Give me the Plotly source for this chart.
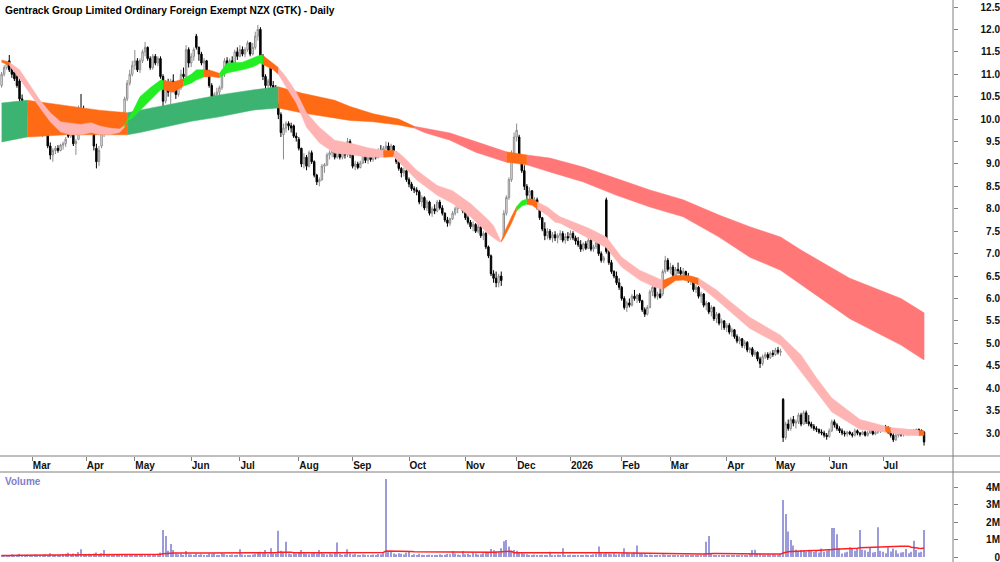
import pandas as pd
import plotly.graph_objects as go

# ---------------- data ----------------
holidays = ["2025-04-18", "2025-04-21", "2025-04-25", "2025-06-02", "2025-06-20", "2025-10-27",
            "2025-12-25", "2025-12-26", "2026-01-01", "2026-01-02", "2026-02-06", "2026-04-03",
            "2026-04-06", "2026-04-27", "2026-06-01", "2026-07-10"]
first_day = "2025-02-13"
last_day = "2026-07-24"

opens = [
    10.75, 11.00, 11.15, 11.30, 11.10, 11.05, 10.95, 10.85, 10.45, 10.30, 10.20, 10.30,
    10.12, 10.00, 9.85, 9.95, 9.75, 9.88, 9.70, 9.40, 9.20, 9.30, 9.35, 9.30, 9.42, 9.45, 9.95, 9.62, 9.80, 9.45, 9.55, 10.20, 10.10,
    9.95, 9.85, 10.15, 9.70, 9.35, 9.05, 9.40, 9.70, 9.95, 9.85, 9.95, 9.75, 9.80, 9.75, 9.90, 10.15, 10.45, 10.80, 11.00,
    11.20, 11.30, 11.10, 11.30, 11.50, 11.60, 11.35, 11.15, 11.40, 11.25, 11.35, 10.95, 10.40, 10.80, 10.60, 10.85, 10.65, 10.55, 10.70, 11.00, 10.95, 11.55,
    11.25, 11.40, 11.85, 11.60, 11.45, 11.25, 11.30, 11.00, 10.75, 10.50, 10.55, 10.60, 10.70, 11.05, 11.30, 11.20, 11.30, 11.25, 11.50,
    11.40, 11.55, 11.45, 11.55, 11.70, 11.45, 11.60, 11.85, 12.00, 11.40, 10.95, 10.75, 11.20, 10.75, 10.70, 10.30, 10.10, 9.65, 9.80, 9.90, 9.85, 9.85, 9.62,
    9.55, 9.35, 9.00, 9.15, 8.95, 9.25, 9.05, 8.75, 8.60, 8.65, 8.95, 8.98, 9.20, 9.25, 9.40, 9.15, 9.35, 9.15, 9.25, 9.20, 9.50,
    9.20, 8.95, 9.00, 8.92, 9.02, 9.25, 9.08, 9.15, 9.10, 9.25, 9.15, 9.30, 9.25, 9.35, 9.40, 9.30, 9.40, 9.25, 9.05, 8.90, 8.80, 8.85,
    8.65, 8.55, 8.45, 8.42, 8.38, 8.15, 8.25, 8.02, 8.15, 7.90, 8.00, 7.95, 8.15, 8.02, 7.90, 7.75, 7.68, 7.78, 7.90, 8.00, 8.08, 8.15,
    7.95, 7.80, 7.70, 7.60, 7.65, 7.50, 7.60, 7.40, 7.45, 7.15, 6.95, 6.55, 6.45, 6.35, 6.50, 7.40, 7.90, 8.25, 8.65, 9.20,
    9.60, 9.60, 9.10, 8.85, 8.50, 8.30, 8.40, 8.15, 8.20, 8.05, 7.80, 7.55, 7.40, 7.50, 7.35, 7.42, 7.35, 7.40, 7.45, 7.30, 7.38,
    7.35, 7.45, 7.35, 7.28, 7.20, 7.10, 7.22, 7.12, 7.30, 7.10, 7.15, 7.25, 7.00, 6.85, 8.20, 7.05, 6.80, 6.60, 6.50, 6.35,
    6.25, 6.00, 5.80, 5.90, 5.85, 6.05, 6.00, 6.08, 5.95, 5.75, 5.65, 5.80, 6.15, 6.25, 6.05, 6.10, 6.10, 6.60, 6.85,
    6.65, 6.70, 6.52, 6.65, 6.62, 6.55, 6.60, 6.50, 6.40, 6.45, 6.20, 6.25, 6.05, 6.10, 5.85, 5.90, 5.70, 5.80, 5.55, 5.65, 5.45, 5.50,
    5.35, 5.40, 5.25, 5.30, 5.15, 5.05, 5.10, 4.95, 5.02, 4.85, 4.88, 4.75, 4.80, 4.65, 4.55, 4.70, 4.75, 4.68, 4.78,
    4.75, 4.85, 4.80, 3.75, 2.90, 3.20, 3.10, 3.30, 3.22, 3.25, 3.40, 3.20, 3.45, 3.25, 3.20, 3.15, 3.10, 3.08, 3.02, 3.00, 2.95,
    2.92, 3.05, 3.25, 3.18, 3.10, 3.05, 3.00, 2.98, 3.02, 2.98, 2.95, 3.05, 3.00, 2.97, 3.02, 2.95, 3.00, 3.08, 2.98, 3.02, 3.05,
    3.08, 3.12, 3.10, 3.02, 2.95, 2.85, 2.95, 2.98, 2.96, 3.00, 2.98, 3.00, 3.05, 3.02, 3.08, 3.05, 3.02,
]
highs = [
    11.05, 11.20, 11.30, 11.43, 11.18, 11.12, 11.00, 10.90, 10.55, 10.40, 10.35, 10.35,
    10.18, 10.05, 10.00, 10.02, 9.92, 9.95, 9.72, 9.48, 9.35, 9.40, 9.42, 9.45, 9.50, 9.60, 10.05, 9.85, 9.82, 9.55, 10.30, 10.56, 10.30,
    10.14, 10.20, 10.20, 9.72, 9.45, 9.40, 9.75, 10.05, 10.05, 10.00, 9.98, 9.87, 9.85, 9.90, 10.16, 10.50, 10.87, 11.10, 11.30,
    11.54, 11.36, 11.35, 11.55, 11.72, 11.62, 11.40, 11.45, 11.45, 11.40, 11.40, 11.00, 10.87, 10.90, 10.90, 11.00, 10.80, 10.75, 11.10, 11.15, 11.65, 11.60,
    11.47, 11.60, 11.90, 11.62, 11.50, 11.36, 11.32, 11.10, 10.80, 10.60, 10.70, 10.75, 11.10, 11.36, 11.38, 11.35, 11.40, 11.55, 11.60,
    11.65, 11.62, 11.60, 11.75, 11.72, 11.70, 11.95, 12.10, 12.05, 11.45, 11.00, 10.90, 11.25, 10.85, 10.76, 10.35, 10.15, 9.90, 9.95, 9.95, 9.92, 9.88, 9.70,
    9.60, 9.36, 9.24, 9.20, 9.30, 9.30, 9.08, 8.78, 8.70, 9.00, 9.02, 9.25, 9.30, 9.40, 9.45, 9.40, 9.38, 9.30, 9.32, 9.58, 9.55,
    9.22, 9.07, 9.05, 9.07, 9.30, 9.28, 9.20, 9.25, 9.30, 9.30, 9.35, 9.42, 9.40, 9.50, 9.48, 9.45, 9.42, 9.28, 9.15, 8.93, 8.92, 8.88,
    8.70, 8.60, 8.50, 8.48, 8.42, 8.30, 8.28, 8.20, 8.18, 8.05, 8.10, 8.20, 8.20, 8.08, 7.92, 7.82, 7.80, 7.95, 8.05, 8.13, 8.24, 8.18,
    7.97, 7.85, 7.75, 7.72, 7.68, 7.68, 7.62, 7.50, 7.48, 7.18, 6.98, 6.63, 6.60, 6.55, 6.60, 7.97, 8.30, 8.70, 9.30, 9.70,
    9.90, 9.65, 9.15, 8.97, 8.55, 8.48, 8.42, 8.26, 8.25, 8.08, 7.82, 7.70, 7.57, 7.55, 7.48, 7.50, 7.45, 7.52, 7.50, 7.45, 7.48,
    7.52, 7.50, 7.40, 7.37, 7.30, 7.25, 7.28, 7.35, 7.35, 7.20, 7.30, 7.28, 7.05, 6.95, 8.25, 7.10, 6.86, 6.63, 6.60, 6.45,
    6.28, 6.05, 5.95, 6.00, 6.10, 6.19, 6.10, 6.12, 5.97, 5.80, 5.85, 6.20, 6.34, 6.28, 6.15, 6.25, 6.65, 6.95, 6.90,
    6.80, 6.75, 6.70, 6.80, 6.70, 6.68, 6.62, 6.57, 6.50, 6.48, 6.30, 6.28, 6.15, 6.12, 5.95, 5.92, 5.85, 5.82, 5.70, 5.68, 5.55, 5.52,
    5.45, 5.45, 5.35, 5.32, 5.20, 5.15, 5.12, 5.07, 5.05, 4.92, 4.92, 4.85, 4.82, 4.70, 4.75, 4.80, 4.80, 4.82, 4.85,
    4.90, 4.92, 4.88, 3.78, 3.25, 3.30, 3.35, 3.38, 3.30, 3.45, 3.45, 3.50, 3.50, 3.40, 3.25, 3.20, 3.15, 3.10, 3.08, 3.05, 3.00,
    3.10, 3.30, 3.30, 3.22, 3.15, 3.10, 3.05, 3.05, 3.05, 3.02, 3.10, 3.08, 3.02, 3.05, 3.05, 3.05, 3.10, 3.10, 3.05, 3.08, 3.12,
    3.15, 3.18, 3.15, 3.05, 3.00, 3.00, 3.02, 3.00, 3.02, 3.05, 3.02, 3.08, 3.08, 3.10, 3.10, 3.08, 3.04,
]
lows = [
    10.70, 10.95, 11.10, 11.05, 10.92, 10.85, 10.70, 10.40, 10.20, 10.00, 10.10, 10.08,
    9.98, 9.82, 9.80, 9.70, 9.60, 9.65, 9.35, 9.10, 9.05, 9.22, 9.25, 9.28, 9.32, 9.38, 9.58, 9.58, 9.40, 9.20, 9.53, 10.00, 9.90,
    9.82, 9.80, 9.70, 9.30, 8.90, 8.95, 9.35, 9.60, 9.80, 9.80, 9.70, 9.65, 9.70, 9.70, 9.88, 10.10, 10.40, 10.75, 10.95,
    11.10, 11.05, 11.03, 11.25, 11.40, 11.30, 11.10, 11.10, 11.20, 11.18, 10.90, 10.17, 10.35, 10.50, 10.30, 10.60, 10.45, 10.50, 10.65, 10.85, 10.90, 11.15,
    11.16, 11.30, 11.55, 11.30, 11.20, 11.00, 10.95, 10.70, 10.40, 10.10, 10.45, 10.43, 10.65, 10.94, 11.14, 11.15, 11.18, 11.22, 11.32,
    11.38, 11.40, 11.38, 11.50, 11.40, 11.42, 11.55, 11.75, 11.35, 10.87, 10.65, 10.65, 10.70, 10.62, 10.27, 10.00, 9.60, 9.10, 9.70, 9.75, 9.70, 9.58, 9.50,
    9.30, 8.93, 8.90, 8.86, 8.92, 9.00, 8.70, 8.53, 8.50, 8.62, 8.80, 8.95, 9.10, 9.15, 9.10, 9.12, 9.10, 9.10, 9.12, 9.15, 9.13,
    8.90, 8.86, 8.88, 8.90, 9.00, 9.02, 9.00, 9.05, 9.05, 9.10, 9.12, 9.20, 9.20, 9.30, 9.25, 9.25, 9.20, 9.00, 8.85, 8.70, 8.72, 8.60,
    8.48, 8.40, 8.35, 8.30, 8.10, 8.05, 7.97, 7.95, 7.85, 7.82, 7.88, 7.92, 7.98, 7.85, 7.70, 7.60, 7.62, 7.75, 7.85, 7.90, 8.00, 7.90,
    7.75, 7.65, 7.55, 7.50, 7.46, 7.45, 7.35, 7.30, 7.10, 6.90, 6.50, 6.35, 6.25, 6.25, 6.28, 7.37, 7.85, 8.20, 8.60, 9.10,
    9.50, 9.05, 8.80, 8.42, 8.20, 8.10, 8.10, 8.05, 7.98, 7.75, 7.50, 7.30, 7.32, 7.30, 7.25, 7.28, 7.23, 7.30, 7.25, 7.22, 7.28,
    7.30, 7.30, 7.20, 7.15, 7.04, 7.05, 7.08, 7.10, 7.05, 7.04, 7.10, 6.95, 6.80, 6.79, 7.00, 6.75, 6.55, 6.45, 6.30, 6.19,
    5.95, 5.75, 5.70, 5.80, 5.82, 5.95, 5.90, 5.90, 5.70, 5.59, 5.62, 5.78, 6.05, 6.00, 5.97, 6.00, 6.05, 6.55, 6.60,
    6.55, 6.48, 6.50, 6.55, 6.45, 6.43, 6.45, 6.35, 6.30, 6.15, 6.12, 6.00, 5.90, 5.80, 5.74, 5.65, 5.60, 5.50, 5.45, 5.40, 5.30, 5.30,
    5.25, 5.20, 5.15, 5.10, 5.00, 4.98, 4.90, 4.88, 4.80, 4.78, 4.70, 4.70, 4.60, 4.45, 4.50, 4.65, 4.63, 4.65, 4.70,
    4.72, 4.75, 4.72, 2.80, 2.85, 3.05, 3.05, 3.15, 3.10, 3.20, 3.15, 3.18, 3.20, 3.15, 3.10, 3.05, 3.02, 2.98, 2.95, 2.90, 2.85,
    2.90, 3.02, 3.12, 3.05, 3.00, 2.95, 2.92, 2.92, 2.95, 2.90, 2.92, 2.95, 2.92, 2.95, 2.92, 2.92, 2.98, 2.95, 2.95, 2.98, 3.00,
    3.02, 3.05, 2.98, 2.90, 2.80, 2.82, 2.90, 2.92, 2.92, 2.95, 2.94, 2.97, 2.98, 3.00, 3.00, 3.00, 2.72,
]
closes = [
    11.00, 11.15, 11.25, 11.10, 11.00, 10.90, 10.75, 10.45, 10.30, 10.25, 10.30, 10.12,
    10.02, 9.85, 9.98, 9.75, 9.88, 9.70, 9.40, 9.20, 9.30, 9.35, 9.30, 9.42, 9.45, 9.55, 9.62, 9.80, 9.45, 9.50, 10.20, 10.10, 9.95,
    9.85, 10.15, 9.75, 9.40, 9.05, 9.30, 9.70, 9.95, 9.85, 9.95, 9.75, 9.80, 9.75, 9.85, 10.12, 10.45, 10.80, 11.00, 11.20,
    11.30, 11.10, 11.30, 11.50, 11.60, 11.35, 11.15, 11.40, 11.25, 11.35, 10.95, 10.40, 10.80, 10.60, 10.85, 10.65, 10.55, 10.70, 11.00, 10.95, 11.55, 11.25,
    11.40, 11.55, 11.60, 11.45, 11.25, 11.30, 11.00, 10.75, 10.50, 10.55, 10.60, 10.70, 11.05, 11.30, 11.20, 11.30, 11.25, 11.50, 11.40,
    11.55, 11.45, 11.55, 11.70, 11.45, 11.60, 11.85, 12.00, 11.40, 10.95, 10.75, 10.85, 10.75, 10.70, 10.30, 10.10, 9.70, 9.80, 9.90, 9.85, 9.80, 9.62, 9.58,
    9.35, 9.00, 9.15, 8.95, 9.25, 9.05, 8.75, 8.60, 8.65, 8.95, 8.98, 9.20, 9.25, 9.35, 9.15, 9.35, 9.15, 9.25, 9.20, 9.50, 9.20,
    8.95, 9.00, 8.92, 9.02, 9.25, 9.08, 9.15, 9.10, 9.25, 9.15, 9.30, 9.25, 9.35, 9.40, 9.30, 9.40, 9.25, 9.05, 8.90, 8.80, 8.85, 8.65,
    8.55, 8.45, 8.42, 8.38, 8.15, 8.25, 8.02, 8.15, 7.90, 8.00, 7.95, 8.15, 8.02, 7.90, 7.75, 7.68, 7.78, 7.90, 8.00, 8.08, 8.15, 7.95,
    7.80, 7.70, 7.60, 7.65, 7.50, 7.60, 7.40, 7.45, 7.15, 6.95, 6.55, 6.45, 6.35, 6.50, 6.40, 7.90, 8.25, 8.65, 9.20, 9.60,
    9.75, 9.10, 8.85, 8.50, 8.30, 8.40, 8.15, 8.20, 8.05, 7.80, 7.55, 7.40, 7.50, 7.35, 7.42, 7.35, 7.40, 7.45, 7.30, 7.38, 7.35,
    7.45, 7.35, 7.28, 7.20, 7.10, 7.22, 7.12, 7.30, 7.10, 7.15, 7.25, 7.00, 6.85, 6.90, 7.05, 6.80, 6.60, 6.50, 6.35, 6.25,
    6.00, 5.80, 5.90, 5.85, 6.05, 6.00, 6.08, 5.95, 5.75, 5.65, 5.80, 6.15, 6.25, 6.05, 6.10, 6.02, 6.60, 6.85, 6.65,
    6.70, 6.52, 6.65, 6.62, 6.55, 6.60, 6.50, 6.40, 6.45, 6.20, 6.25, 6.05, 6.10, 5.85, 5.90, 5.70, 5.80, 5.55, 5.65, 5.45, 5.50, 5.35,
    5.40, 5.25, 5.30, 5.15, 5.05, 5.10, 4.95, 5.02, 4.85, 4.88, 4.75, 4.80, 4.65, 4.55, 4.70, 4.75, 4.68, 4.78, 4.75,
    4.85, 4.80, 4.82, 2.90, 3.20, 3.10, 3.30, 3.22, 3.25, 3.40, 3.20, 3.45, 3.25, 3.20, 3.15, 3.10, 3.08, 3.02, 3.00, 2.95, 2.92,
    3.05, 3.25, 3.18, 3.10, 3.05, 3.00, 2.98, 3.02, 2.98, 2.95, 3.05, 3.00, 2.97, 3.02, 2.95, 3.00, 3.08, 2.98, 3.02, 3.05, 3.08,
    3.12, 3.10, 3.02, 2.95, 2.85, 2.95, 2.98, 2.96, 3.00, 2.98, 3.00, 3.05, 3.02, 3.08, 3.05, 3.02, 2.80,
]
# volume in millions of shares
volumes = [
    0.08, 0.12, 0.06, 0.10, 0.15, 0.07, 0.09, 0.18, 0.11, 0.08, 0.13, 0.10,
    0.09, 0.14, 0.07, 0.12, 0.10, 0.16, 0.08, 0.22, 0.13, 0.09, 0.11, 0.07, 0.15, 0.19, 0.24, 0.12, 0.20, 0.17, 0.28, 0.44, 0.15,
    0.12, 0.18, 0.14, 0.20, 0.25, 0.16, 0.22, 0.40, 0.13, 0.10, 0.08, 0.12, 0.09, 0.11, 0.14, 0.10, 0.16, 0.12, 0.09,
    0.15, 0.11, 0.08, 0.13, 0.10, 0.12, 0.09, 0.14, 0.11, 0.18, 0.25, 1.54, 1.20, 0.35, 0.74, 0.40, 0.22, 0.15, 0.18, 0.12, 0.34, 0.16,
    0.14, 0.11, 0.20, 0.13, 0.16, 0.10, 0.12, 0.18, 0.15, 0.20, 0.11, 0.09, 0.22, 0.17, 0.12, 0.10, 0.14, 0.09, 0.13,
    0.44, 0.15, 0.10, 0.12, 0.09, 0.14, 0.18, 0.25, 0.30, 0.22, 0.40, 0.16, 0.50, 0.20, 0.18, 1.50, 0.35, 0.25, 0.87, 0.20, 0.16, 0.22, 0.18,
    0.24, 0.40, 0.22, 0.18, 0.15, 0.20, 0.26, 0.19, 0.40, 0.22, 0.17, 0.14, 0.20, 0.16, 0.24, 0.83, 0.18, 0.12, 0.15, 0.44, 0.20,
    0.14, 0.18, 0.12, 0.10, 0.16, 0.13, 0.11, 0.09, 0.14, 0.12, 0.17, 0.15, 0.22, 4.46, 0.28, 0.34, 0.20, 0.16, 0.22, 0.18, 0.14, 0.25,
    0.28, 0.12, 0.15, 0.10, 0.18, 0.13, 0.09, 0.11, 0.14, 0.10, 0.08, 0.12, 0.15, 0.11, 0.13, 0.18, 0.16, 0.34, 0.20, 0.14, 0.12, 0.34,
    0.15, 0.18, 0.12, 0.25, 0.20, 0.14, 0.16, 0.22, 0.30, 0.28, 0.45, 0.38, 0.30, 0.26, 0.50, 0.90, 0.97, 0.60, 0.35, 0.40,
    0.35, 0.28, 0.22, 0.18, 0.15, 0.12, 0.10, 0.14, 0.11, 0.09, 0.13, 0.10, 0.12, 0.30, 0.11, 0.08, 0.14, 0.10, 0.50, 0.12, 0.09,
    0.13, 0.10, 0.08, 0.12, 0.09, 0.11, 0.14, 0.10, 0.12, 0.15, 0.20, 0.60, 0.22, 0.18, 0.25, 0.20, 0.16, 0.22, 0.14, 0.18,
    0.20, 0.50, 0.24, 0.18, 0.20, 0.26, 0.65, 0.22, 0.18, 0.15, 0.12, 0.14, 0.10, 0.12, 0.09, 0.11, 0.15, 0.13, 0.10,
    0.12, 0.09, 0.08, 0.10, 0.12, 0.09, 0.07, 0.11, 0.10, 0.08, 0.09, 0.12, 0.10, 0.14, 0.87, 1.20, 0.18, 0.12, 0.10, 0.09, 0.11, 0.08,
    0.10, 0.09, 0.12, 0.08, 0.11, 0.10, 0.13, 0.09, 0.12, 0.15, 0.40, 0.42, 0.20, 0.18, 0.14, 0.12, 0.16, 0.13, 0.15,
    0.14, 0.12, 0.18, 3.26, 2.46, 1.45, 0.97, 0.65, 0.42, 0.35, 0.40, 0.38, 0.30, 0.42, 0.33, 0.28, 0.35, 0.25, 0.48, 0.30, 0.36,
    0.42, 1.65, 1.65, 1.30, 0.50, 0.20, 0.25, 0.30, 0.55, 0.48, 0.35, 0.50, 1.54, 0.42, 0.38, 0.30, 0.55, 0.25, 0.28, 1.70, 0.35,
    0.30, 0.22, 0.55, 0.32, 0.48, 0.38, 0.20, 0.25, 0.28, 0.45, 0.22, 0.30, 0.93, 0.40, 0.25, 0.30, 1.54,
]

# short-term moving-average ribbon: sample day index, upper, lower, colour state
st_day = [0, 3, 7, 11, 15, 19, 23, 27, 31, 35, 38, 42, 46, 48, 49, 51, 54, 58, 62, 63, 67, 71, 74, 76, 79, 82, 85, 88,
          94, 98, 101, 102, 106, 108, 111, 115, 119, 124, 130, 137, 143, 149, 153, 155, 157, 162, 170, 176, 183,
          190, 192, 194, 195, 196, 199, 201, 203, 205, 207, 209, 213, 216, 218, 229, 236, 242, 249, 255, 258, 263,
          266, 269, 272, 279, 285, 292, 304, 312, 318, 324, 335, 345, 347, 353, 358, 360]
st_hi = [11.32, 11.27, 11.10, 10.76, 10.42, 10.14, 9.94, 9.91, 9.88, 9.92, 9.85, 9.80, 9.78, 9.86, 9.98, 10.15, 10.50,
         10.70, 10.87, 10.86, 10.83, 10.90, 11.00, 11.10, 11.10, 11.08, 11.02, 11.25, 11.27, 11.36, 11.43, 11.42, 11.25,
         11.15, 10.94, 10.60, 10.14, 9.82, 9.53, 9.45, 9.36, 9.30, 9.30, 9.25, 9.15, 8.86, 8.52, 8.40, 8.12, 7.75, 7.62,
         7.38, 7.28, 7.45, 7.82, 8.05, 8.18, 8.22, 8.22, 8.15, 8.04, 7.90, 7.82, 7.57, 7.37, 6.92, 6.63, 6.48, 6.40, 6.52,
         6.52, 6.50, 6.45, 6.19, 5.90, 5.58, 5.18, 4.74, 4.23, 3.78, 3.30, 3.15, 3.12, 3.08, 3.06, 3.05]
st_lo = [11.27, 11.20, 10.90, 10.58, 10.25, 9.94, 9.71, 9.65, 9.65, 9.70, 9.66, 9.65, 9.70, 9.82, 9.96, 10.02, 10.20,
         10.42, 10.65, 10.66, 10.60, 10.74, 10.80, 10.87, 10.94, 10.95, 10.92, 11.03, 11.10, 11.16, 11.25, 11.22, 11.10,
         11.00, 10.72, 10.36, 9.82, 9.47, 9.24, 9.20, 9.15, 9.15, 9.16, 9.04, 8.93, 8.64, 8.30, 8.12, 7.82, 7.44, 7.36,
         7.27, 7.26, 7.35, 7.68, 7.95, 8.06, 8.10, 8.08, 8.00, 7.85, 7.70, 7.68, 7.35, 7.13, 6.70, 6.41, 6.25, 6.20, 6.40,
         6.41, 6.37, 6.30, 5.97, 5.68, 5.33, 4.96, 4.36, 3.91, 3.47, 3.08, 3.02, 3.00, 2.95, 2.94, 2.95]
st_state = ["O", "P", "P", "P", "P", "P", "P", "P", "P", "P", "P", "P", "P", "G", "G", "G", "G", "G", "G", "O", "O",
            "G", "G", "G", "O", "O", "G", "G", "G", "G", "G", "O", "O", "P", "P", "P", "P", "P", "P", "P", "P", "O",
            "P", "P", "P", "P", "P", "P", "P", "P", "P", "P", "O", "O", "O", "G", "G", "O", "O", "P", "P", "P", "P",
            "P", "P", "P", "P", "P", "O", "O", "O", "O", "P", "P", "P", "P", "P", "P", "P", "P", "P", "O", "P", "P",
            "O", "O"]

# long-term moving-average ribbon
lt_day = [0, 10, 25, 38, 49, 54, 74, 85, 98, 108, 117, 130, 136, 145, 155, 161, 165, 175, 185, 197, 205, 214, 227,
          240, 253, 266, 280, 292, 304, 312, 331, 351, 360]
lt_hi = [10.36, 10.42, 10.31, 10.20, 10.14, 10.20, 10.42, 10.54, 10.65, 10.72, 10.58, 10.42, 10.28, 10.12, 10.00,
         9.84, 9.80, 9.69, 9.50, 9.27, 9.20, 9.13, 8.93, 8.68, 8.42, 8.20, 7.86, 7.60, 7.37, 7.08, 6.45, 6.00, 5.68]
lt_lo = [9.49, 9.60, 9.65, 9.65, 9.65, 9.70, 9.95, 10.05, 10.20, 10.25, 10.14, 10.02, 9.97, 9.94, 9.87, 9.80,
         9.70, 9.53, 9.26, 9.04, 8.98, 8.82, 8.60, 8.30, 8.04, 7.82, 7.37, 6.92, 6.63, 6.30, 5.55, 4.96, 4.63]
lt_state = ["G", "O", "O", "O", "G", "G", "G", "G", "G", "O", "O", "O", "O", "O", "O", "R", "R", "R", "R", "O", "R",
            "R", "R", "R", "R", "R", "R", "R", "R", "R", "R", "R", "R"]

month_labels = ["Mar", "Apr", "May", "Jun", "Jul", "Aug", "Sep", "Oct", "Nov", "Dec",
                "2026", "Feb", "Mar", "Apr", "May", "Jun", "Jul"]
price_ticks = [3.0, 3.5, 4.0, 4.5, 5.0, 5.5, 6.0, 6.5, 7.0, 7.5, 8.0, 8.5, 9.0, 9.5, 10.0, 10.5, 11.0, 11.5, 12.0, 12.5]
vol_ticks = [0, 1, 2, 3, 4]
vol_tick_labels = ["0", "1M", "2M", "3M", "4M"]
title_text = "Gentrack Group Limited Ordinary Foreign Exempt NZX (GTK) - Daily"

# ---------------- styles ----------------
ST_COLORS = {"G": "#22EE22", "O": "#FF6A14", "P": "#FFB4B4"}
LT_COLORS = {"G": "#3CB371", "O": "#FF6A14", "R": "#FF7777"}
FONT = "Arial, Liberation Sans, sans-serif"
AXIS_GREY = "#7F7F7F"

# ---------------- build ----------------
bdays = pd.bdate_range(first_day, last_day)
dates = [d.strftime("%Y-%m-%d") for d in bdays if d.strftime("%Y-%m-%d") not in holidays]
n = min(len(dates), len(opens), len(highs), len(lows), len(closes), len(volumes))
dates = dates[:n]

month_ticks = []
for i in range(1, n):
    if dates[i][5:7] != dates[i - 1][5:7]:
        month_ticks.append(dates[i])
month_ticks = month_ticks[:len(month_labels)]

vol_ma = pd.Series(volumes[:n]).rolling(50, min_periods=1).mean().tolist()

fig = go.Figure()


def add_band(day, hi, lo, state, colors):
    m = len(day)
    s = 0
    for k in range(1, m):
        if k == m - 1 or state[k] != state[s]:
            xs = [dates[d] for d in day[s:k + 1] if d < n]
            cnt = len(xs)
            yh = hi[s:s + cnt]
            yl = lo[s:s + cnt]
            col = colors[state[s]]
            fig.add_trace(go.Scatter(
                x=xs + xs[::-1], y=yh + yl[::-1], mode="lines", fill="toself",
                fillcolor=col, line=dict(width=0.5, color=col),
                hoverinfo="skip", showlegend=False, xaxis="x", yaxis="y"))
            s = k


add_band(lt_day, lt_hi, lt_lo, lt_state, LT_COLORS)
add_band(st_day, st_hi, st_lo, st_state, ST_COLORS)

fig.add_trace(go.Candlestick(
    x=dates, open=opens[:n], high=highs[:n], low=lows[:n], close=closes[:n],
    increasing=dict(line=dict(color="#8C8C8C", width=1), fillcolor="#FFFFFF"),
    decreasing=dict(line=dict(color="#000000", width=1), fillcolor="#000000"),
    whiskerwidth=0, showlegend=False, xaxis="x", yaxis="y", name="GTK"))

fig.add_trace(go.Bar(
    x=dates, y=volumes[:n], marker=dict(color="#9B9BDC", line=dict(width=0)),
    width=0.45, showlegend=False, xaxis="x2", yaxis="y2", name="Volume"))
fig.add_trace(go.Scatter(
    x=dates, y=vol_ma, mode="lines", line=dict(color="#FF2020", width=1.5),
    showlegend=False, xaxis="x2", yaxis="y2", hoverinfo="skip"))

# invisible helpers so the label axes render
fig.add_trace(go.Scatter(x=[dates[0]], y=[price_ticks[0]], mode="markers", marker=dict(opacity=0),
                         showlegend=False, hoverinfo="skip", xaxis="x", yaxis="y3"))
fig.add_trace(go.Scatter(x=[dates[0]], y=[vol_ticks[1]], mode="markers", marker=dict(opacity=0),
                         showlegend=False, hoverinfo="skip", xaxis="x2", yaxis="y4"))

W, H = 1000, 562
plot_right = 953 / W
price_bottom = 1 - 456 / H
vol_top = 1 - 472 / H
x_range = [-0.625, n - 1 + 11.3]
price_range = [2.487, 12.656]
vol_range = [-0.286, 4.857]
tickfont = dict(family=FONT, size=10, color="#111111", weight="bold")

fig.update_layout(
    width=W, height=H, margin=dict(l=0, r=0, t=0, b=0),
    paper_bgcolor="white", plot_bgcolor="white", showlegend=False, boxgap=0.2,
    xaxis=dict(domain=[0, plot_right], anchor="y", type="category", categoryorder="array",
               categoryarray=dates, range=x_range, tickvals=month_ticks, ticktext=month_labels,
               ticks="outside", ticklen=4, tickcolor=AXIS_GREY, ticklabelposition="outside right",
               tickfont=tickfont, showgrid=False, zeroline=False, showline=False,
               rangeslider=dict(visible=False), automargin=False, fixedrange=True),
    xaxis2=dict(domain=[0, plot_right], anchor="y2", matches="x", type="category",
                showticklabels=False, ticks="", showgrid=False, zeroline=False, showline=False,
                automargin=False),
    yaxis=dict(domain=[price_bottom, 1], anchor="x", side="right", range=price_range,
               tickvals=price_ticks, showticklabels=False, ticks="outside", ticklen=4,
               tickcolor=AXIS_GREY, showgrid=False, zeroline=False, showline=False, automargin=False),
    yaxis3=dict(overlaying="y", anchor="free", position=1.0, side="left", range=price_range,
                tickvals=price_ticks, tickformat=".1f", ticks="", tickfont=tickfont,
                ticklabeloverflow="allow",
                showgrid=False, zeroline=False, showline=False, automargin=False),
    yaxis2=dict(domain=[0, vol_top], anchor="x2", side="right", range=vol_range,
                tickvals=vol_ticks, showticklabels=False, ticks="outside", ticklen=4,
                tickcolor=AXIS_GREY, showgrid=False, zeroline=False, showline=False, automargin=False),
    yaxis4=dict(overlaying="y2", anchor="free", position=1.0, side="left", range=vol_range,
                tickvals=vol_ticks, ticktext=vol_tick_labels, ticks="", tickfont=tickfont,
                ticklabeloverflow="allow",
                showgrid=False, zeroline=False, showline=False, automargin=False),
    shapes=[
        dict(type="line", xref="paper", yref="paper", x0=0, x1=1, y0=price_bottom, y1=price_bottom,
             line=dict(color=AXIS_GREY, width=1)),
        dict(type="line", xref="paper", yref="paper", x0=0, x1=1, y0=vol_top, y1=vol_top,
             line=dict(color=AXIS_GREY, width=1)),
        dict(type="line", xref="paper", yref="paper", x0=plot_right, x1=plot_right, y0=0, y1=1,
             line=dict(color=AXIS_GREY, width=1)),
    ],
    annotations=[
        dict(text="<b>" + title_text + "</b>", xref="paper", yref="paper", x=3 / W, y=1 - 3 / H,
             xanchor="left", yanchor="top", showarrow=False,
             font=dict(family=FONT, size=10.2, color="#000000")),
        dict(text="<b>Volume</b>", xref="paper", yref="paper", x=3 / W, y=1 - 474 / H,
             xanchor="left", yanchor="top", showarrow=False,
             font=dict(family=FONT, size=10, color="#8080C8")),
    ],
)

fig.write_html("out.html")
